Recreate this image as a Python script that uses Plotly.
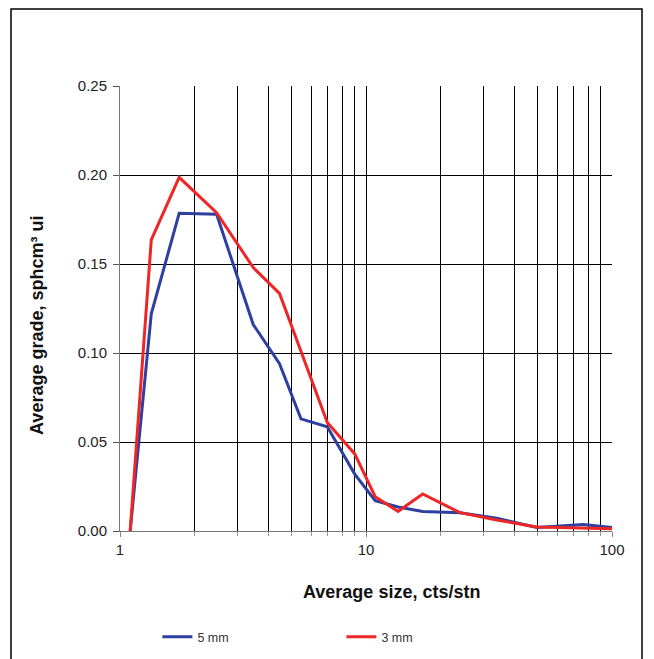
import plotly.graph_objects as go

sizes = [1.1, 1.34, 1.74, 2.47, 3.48, 4.45, 5.44, 6.96, 9.0, 10.9, 13.5, 17.0, 24.1, 34.0, 49.4, 76.4, 100]
grade_5mm = [0, 0.122, 0.1785, 0.178, 0.116, 0.094, 0.063, 0.0585, 0.032, 0.017, 0.0135, 0.011, 0.0103, 0.0072, 0.002, 0.0037, 0.002]
grade_3mm = [0, 0.1635, 0.1987, 0.1788, 0.148, 0.1335, 0.101, 0.061, 0.0433, 0.0193, 0.011, 0.0208, 0.0103, 0.0062, 0.0022, 0.0018, 0.0012]
series_names = ["5 mm", "3 mm"]
y_ticks = [0, 0.05, 0.10, 0.15, 0.20, 0.25]
x_title = "Average size, cts/stn"
y_title = "Average grade, sphcm³ ui"

fig = go.Figure()
fig.add_trace(go.Scatter(x=sizes, y=grade_5mm, mode="lines", name=series_names[0],
                         line=dict(color="#2e3fa0", width=3)))
fig.add_trace(go.Scatter(x=sizes, y=grade_3mm, mode="lines", name=series_names[1],
                         line=dict(color="#ee2626", width=3)))

font_fam = "Liberation Sans, Arial, sans-serif"
# page body has an 8px margin, so the figure is 8px smaller and shifted
fig.update_layout(
    width=646, height=651,
    margin=dict(l=112, r=42, t=78, b=128, autoexpand=False),
    paper_bgcolor="white", plot_bgcolor="white",
    font=dict(family=font_fam, color="#222", size=15),
    showlegend=True,
    legend=dict(orientation="h", x=0.076, y=-0.2385, xanchor="left", yanchor="middle",
                font=dict(size=12.5, color="#333"), entrywidth=139, entrywidthmode="pixels",
                bgcolor="rgba(0,0,0,0)", itemwidth=30),
    xaxis=dict(type="log", range=[0, 2], tickvals=[1, 10, 100], ticktext=["1", "10", "100"],
               showgrid=True, gridcolor="black", gridwidth=1,
               minor=dict(dtick="D1", showgrid=True, gridcolor="black", gridwidth=1,
                          ticks="outside", ticklen=4, tickcolor="#999"),
               ticks="outside", ticklen=5, tickcolor="#888",
               showline=True, linecolor="#777", linewidth=1, automargin=False,
               zeroline=False, tickfont=dict(size=15, color="#222")),
    yaxis=dict(range=[0, 0.25], tickvals=y_ticks, tickformat=".2f",
               showgrid=True, gridcolor="black", gridwidth=1,
               ticks="outside", ticklen=6, tickcolor="#555", ticklabelstandoff=3,
               showline=True, linecolor="#777", linewidth=1, automargin=False,
               zeroline=False, tickfont=dict(size=15, color="#222")),
    annotations=[
        dict(text="<b>" + x_title + "</b>", xref="paper", yref="paper", x=0.551, y=-0.137,
             xanchor="center", yanchor="middle", showarrow=False,
             font=dict(size=18, color="#111", family=font_fam)),
        dict(text="<b>" + y_title + "</b>", xref="paper", yref="paper", x=-0.1687, y=0.463,
             xanchor="center", yanchor="middle", showarrow=False, textangle=-90,
             font=dict(size=18, color="#111", family=font_fam)),
    ],
    shapes=[dict(type="rect", xref="paper", yref="paper", x0=-0.2215, x1=1.061, y0=-0.32, y1=1.173,
                 line=dict(color="black", width=1.5), layer="below")],
)

fig.write_html("out.html", config={"displayModeBar": False})
